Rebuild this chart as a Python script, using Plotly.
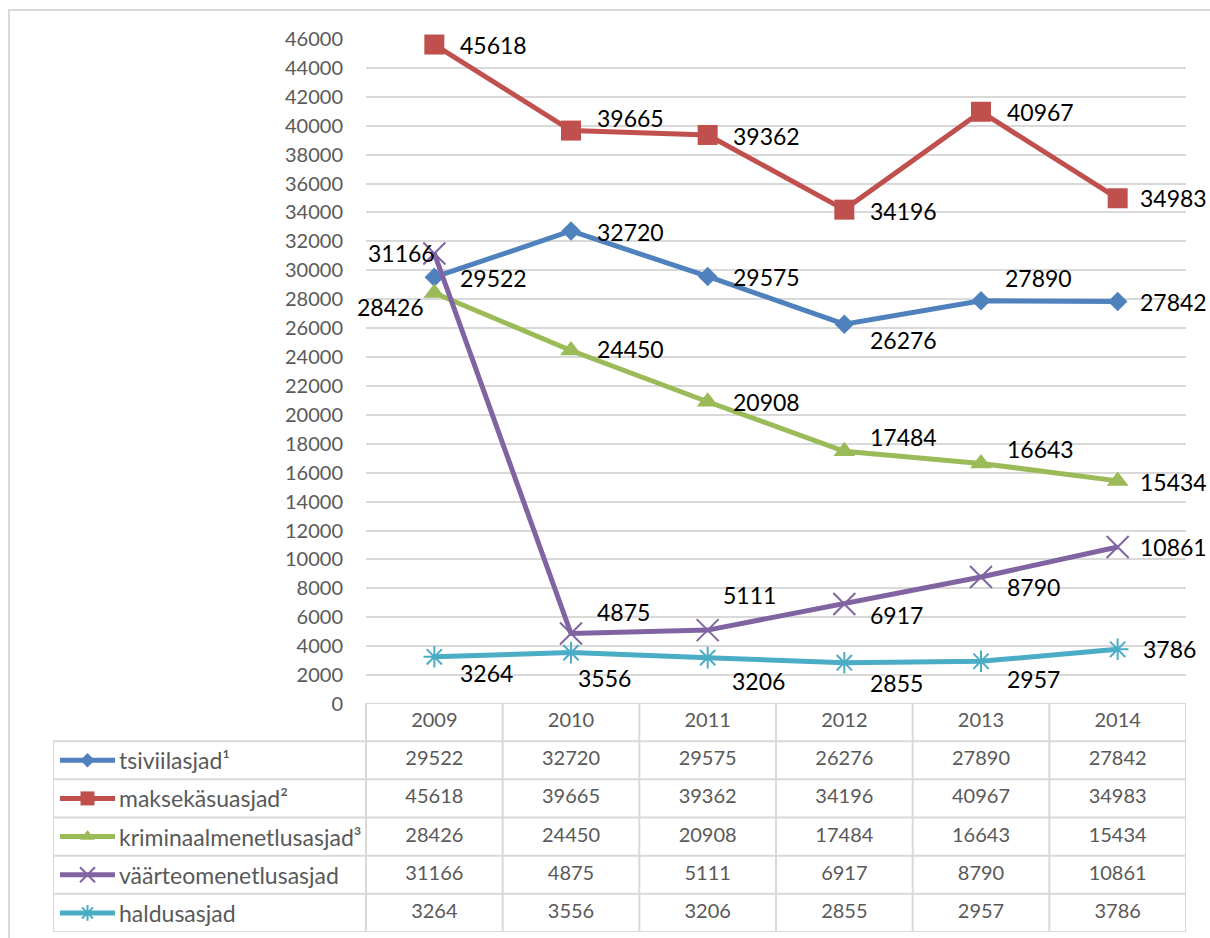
import plotly.graph_objects as go

# ---------------- data ----------------
years = ["2009", "2010", "2011", "2012", "2013", "2014"]
series_names = ["tsiviilasjad¹", "maksekäsuasjad²", "kriminaalmenetlusasjad³",
                "väärteomenetlusasjad", "haldusasjad"]
tsiviilasjad = [29522, 32720, 29575, 26276, 27890, 27842]
maksekasuasjad = [45618, 39665, 39362, 34196, 40967, 34983]
kriminaalmenetlusasjad = [28426, 24450, 20908, 17484, 16643, 15434]
vaarteomenetlusasjad = [31166, 4875, 5111, 6917, 8790, 10861]
haldusasjad = [3264, 3556, 3206, 2855, 2957, 3786]
all_values = [tsiviilasjad, maksekasuasjad, kriminaalmenetlusasjad,
              vaarteomenetlusasjad, haldusasjad]
y_max = 46000
y_step = 2000

# ---------------- styles ----------------
OFFX, OFFY = 0, 0
W, H = 1210, 938
FONT = "Lato"
colors = ["#4F81BD", "#C0504D", "#9BBB59", "#8064A2", "#4BACC6"]
symbols = ["diamond", "square", "triangle-up", "x-thin-open", "asterisk-open"]
msizes = [15, 20, 19, 22, 18]
leg_msizes = [11, 14, 13, 15, 13]
mline = [0, 0, 0, 2, 2]
# label offsets: (anchor, dx px, dy px screen-down)
label_offsets = [
    [("l", 24, 1), ("l", 24, 1), ("l", 23, 1), ("l", 24, 16), ("l", 22, -23), ("l", 20, 0)],
    [("l", 24, 0), ("l", 24, -13), ("l", 23, 1), ("l", 24, 1), ("l", 24, 0), ("l", 20, 0)],
    [("r", -8, 14), ("l", 24, -2), ("l", 23, 0), ("l", 24, -14), ("l", 24, -14), ("l", 20, 1)],
    [("r", 3, 0), ("l", 24, -22), ("l", 13, -35), ("l", 24, 11), ("l", 24, 10), ("l", 20, 0)],
    [("l", 24, 16), ("l", 5, 25), ("l", 22, 23), ("l", 24, 20), ("l", 24, 18), ("l", 23, 0)],
]
GRID = "#D9D9D9"
TXT = "#595959"


def xp(px):
    return (px - OFFX) / W


def yp(py):
    return 1 - (py - OFFY) / H


plot_left, plot_right = 366, 1186
plot_top, plot_bottom = 39, 704
tab_left, tab_top, tab_bottom = 53, 703, 932
col_w = (plot_right - plot_left) / len(years)
x2_left = -0.5 - (plot_left - tab_left) / col_w

fig = go.Figure()

# main lines
for i, vals in enumerate(all_values):
    fig.add_trace(go.Scatter(
        x=years, y=vals, mode="lines+markers", name=series_names[i],
        line=dict(color=colors[i], width=5),
        marker=dict(symbol=symbols[i], size=msizes[i], color=colors[i],
                    line=dict(color=colors[i], width=mline[i])),
        cliponaxis=False, showlegend=False, xaxis="x", yaxis="y"))

# data labels
annotations = []
for i, vals in enumerate(all_values):
    for j, v in enumerate(vals):
        anc, dx, dy = label_offsets[i][j]
        annotations.append(dict(
            x=j, y=v, xref="x", yref="y", text=str(v), showarrow=False,
            xanchor="left" if anc == "l" else "right", yanchor="middle",
            xshift=dx, yshift=-dy,
            font=dict(family=FONT, size=23, color="#000000")))

# table texts (x2 / y2)
idx = list(range(len(years)))
fig.add_trace(go.Scatter(
    x=idx, y=[0] * len(years), mode="text", text=years,
    textfont=dict(family=FONT, size=20, color=TXT), showlegend=False,
    xaxis="x2", yaxis="y2", cliponaxis=False))
for i, vals in enumerate(all_values):
    fig.add_trace(go.Scatter(
        x=idx, y=[i + 1] * len(vals), mode="text", text=[str(v) for v in vals],
        textfont=dict(family=FONT, size=20, color=TXT), showlegend=False,
        xaxis="x2", yaxis="y2", cliponaxis=False))

# legend keys inside the table
key_a = x2_left + (60 - tab_left) / col_w
key_b = x2_left + (115 - tab_left) / col_w
key_m = (key_a + key_b) / 2
text_x = x2_left + (117 - tab_left) / col_w
for i, name in enumerate(series_names):
    fig.add_trace(go.Scatter(
        x=[key_a, key_b], y=[i + 1, i + 1], mode="lines",
        line=dict(color=colors[i], width=5), showlegend=False,
        xaxis="x2", yaxis="y2", cliponaxis=False))
    fig.add_trace(go.Scatter(
        x=[key_m], y=[i + 1], mode="markers",
        marker=dict(symbol=symbols[i], size=leg_msizes[i], color=colors[i],
                    line=dict(color=colors[i], width=mline[i])),
        showlegend=False, xaxis="x2", yaxis="y2", cliponaxis=False))
    annotations.append(dict(
        x=text_x, y=i + 1, xref="x2", yref="y2", text=name, showarrow=False,
        xanchor="left", yanchor="middle",
        font=dict(family=FONT, size=23, color=TXT)))

# table grid lines
shapes = []
n_rows = len(series_names) + 1
shapes.append(dict(type="line", xref="x2", yref="y2", x0=-0.5, x1=len(years) - 0.5,
                   y0=-0.5, y1=-0.5, line=dict(color=GRID, width=2)))
for r in range(n_rows):
    shapes.append(dict(type="line", xref="x2", yref="y2", x0=x2_left, x1=len(years) - 0.5,
                       y0=r + 0.5, y1=r + 0.5, line=dict(color=GRID, width=2)))
shapes.append(dict(type="line", xref="x2", yref="y2", x0=x2_left, x1=x2_left,
                   y0=0.5, y1=n_rows - 0.5, line=dict(color=GRID, width=2)))
for c in range(len(years) + 1):
    shapes.append(dict(type="line", xref="x2", yref="y2", x0=c - 0.5, x1=c - 0.5,
                       y0=-0.5, y1=n_rows - 0.5, line=dict(color=GRID, width=2)))
# outer chart frame
shapes.append(dict(type="rect", xref="paper", yref="paper",
                   x0=xp(9), x1=xp(1240), y0=yp(960), y1=yp(10),
                   line=dict(color=GRID, width=2), fillcolor="rgba(0,0,0,0)"))

fig.update_layout(
    width=W, height=H, margin=dict(l=0, r=0, t=0, b=0, pad=0),
    paper_bgcolor="white", plot_bgcolor="rgba(0,0,0,0)",
    font=dict(family=FONT), hovermode=False,
    xaxis=dict(domain=[xp(plot_left), xp(plot_right)], type="category",
               range=[-0.5, len(years) - 0.5], showticklabels=False,
               showgrid=False, zeroline=False, showline=False, automargin=False),
    yaxis=dict(domain=[yp(plot_bottom), yp(plot_top)], range=[0, y_max],
               dtick=y_step, tick0=0, tickformat="d", showgrid=True,
               gridcolor=GRID, gridwidth=2, automargin=False,
               zeroline=False, showline=False, ticks="outside", ticklen=18,
               tickcolor="rgba(0,0,0,0)",
               tickfont=dict(family=FONT, size=20, color=TXT)),
    xaxis2=dict(domain=[xp(tab_left), xp(plot_right)], range=[x2_left, len(years) - 0.5],
                anchor="y2", visible=False, automargin=False),
    yaxis2=dict(domain=[yp(tab_bottom), yp(tab_top)], range=[n_rows - 0.5, -0.5],
                anchor="x2", visible=False, automargin=False),
    annotations=annotations, shapes=shapes, showlegend=False,
)

fig.write_html(
    "out.html",
    config={"displayModeBar": False},
    post_script="document.body.style.margin='0';document.body.style.overflow='hidden';",
)
